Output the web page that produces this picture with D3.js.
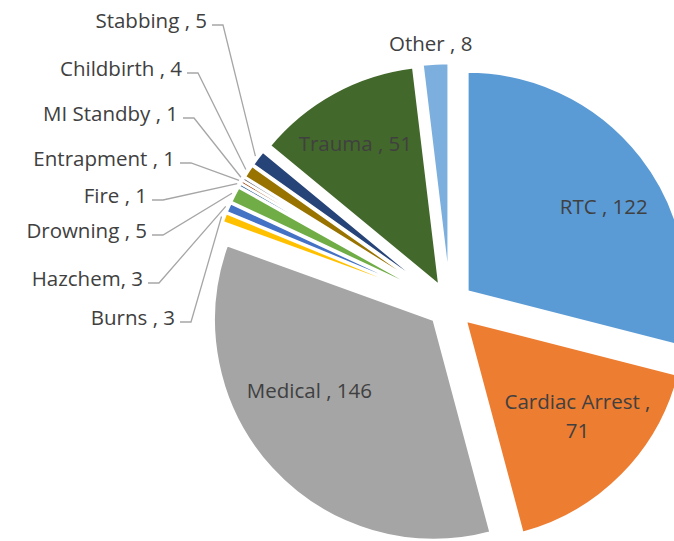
<!doctype html>
<html lang='en'>
<head>
  <meta charset='utf-8'>
  <title>Incident types</title>
  <style>
    html, body { margin: 0; padding: 0; background: #fff; }
    text { font-family: 'Open Sans', sans-serif; fill: #404040; }
    polyline.leader { stroke: #a6a6a6; stroke-width: 1.3; fill: none; }
  </style>
</head>
<body>
  <script src='https://d3js.org/d3.v7.min.js'></script>
  <script>
    // slices, clockwise from 12 o'clock
    const categories = ['RTC', 'Cardiac Arrest', 'Medical', 'Burns', 'Hazchem', 'Drowning', 'Fire',
      'Entrapment', 'MI Standby', 'Childbirth', 'Stabbing', 'Trauma', 'Other']
    const counts = [122, 71, 146, 3, 3, 5, 1, 1, 1, 4, 5, 51, 8]
    const labelText = ['RTC , 122', 'Cardiac Arrest ,|71', 'Medical , 146', 'Burns , 3', 'Hazchem, 3',
      'Drowning , 5', 'Fire , 1', 'Entrapment , 1', 'MI Standby , 1', 'Childbirth , 4', 'Stabbing , 5',
      'Trauma , 51', 'Other , 8']
    const colors = ['#5b9bd5', '#ed7d31', '#a5a5a5', '#ffc000', '#4472c4', '#70ad47', '#255e91',
      '#9e480e', '#636363', '#997300', '#264478', '#43682b', '#7cafdd']

    const width = 674
    const height = 541
    const cx = 450
    const cy = 305
    const radius = 220
    const explode = 22
    const fontSize = '20.5px'

    // label layout: inside labels use [angle shift deg, radius fraction]
    const inside = {
      'RTC': [6, 0.73],
      'Cardiac Arrest': [-4, 0.67],
      'Medical': [13, 0.65],
      'Trauma': [-2, 0.75]
    }
    // leader labels: elbow x / y of the horizontal stub
    const leader = {
      'Stabbing': [212, 25],
      'Childbirth': [187, 73],
      'MI Standby': [183, 118],
      'Entrapment': [180, 163],
      'Fire': [152, 200],
      'Drowning': [152, 235],
      'Hazchem': [148, 283],
      'Burns': [180, 322]
    }

    const data = categories.map((c, i) => ({ name: c, value: counts[i], label: labelText[i], color: colors[i] }))

    const pie = d3.pie().sort(null).value(d => d.value)
    const arcs = pie(data)
    const arc = d3.arc().innerRadius(0).outerRadius(radius)

    const svg = d3.select('body').append('svg')
      .attr('width', width)
      .attr('height', height)

    const g = svg.append('g').attr('transform', `translate(${cx},${cy})`)

    const polar = (a, r) => [r * Math.sin(a), -r * Math.cos(a)]

    g.selectAll('path')
      .data(arcs)
      .join('path')
      .attr('transform', d => {
        const [x, y] = polar((d.startAngle + d.endAngle) / 2, explode)
        return `translate(${x},${y})`
      })
      .attr('d', arc)
      .attr('fill', d => d.data.color)
      .attr('stroke', '#fff')
      .attr('stroke-width', 2.5)

    // labels inside slices
    arcs.filter(d => inside[d.data.name]).forEach(d => {
      const [shift, frac] = inside[d.data.name]
      const mid = (d.startAngle + d.endAngle) / 2
      const [ox, oy] = polar(mid, explode)
      const [lx, ly] = polar(mid + shift * Math.PI / 180, radius * frac)
      const lines = d.data.label.split('|')
      const t = g.append('text')
        .attr('x', ox + lx)
        .attr('y', oy + ly)
        .attr('text-anchor', 'middle')
        .style('font-size', fontSize)
      lines.forEach((s, k) => {
        t.append('tspan')
          .attr('x', ox + lx)
          .attr('dy', k === 0 ? `${0.35 - (lines.length - 1) * 0.7}em` : '1.4em')
          .text(s)
      })
    })

    // Other: outside, no leader
    arcs.filter(d => d.data.name === 'Other').forEach(d => {
      const mid = (d.startAngle + d.endAngle) / 2
      const [lx, ly] = polar(mid - 0.8 * Math.PI / 180, radius + explode + 20)
      g.append('text')
        .attr('x', lx)
        .attr('y', ly)
        .attr('dy', '0.35em')
        .attr('text-anchor', 'middle')
        .style('font-size', fontSize)
        .text(d.data.label)
    })

    // leader labels
    arcs.filter(d => leader[d.data.name]).forEach(d => {
      const [ex, ey] = leader[d.data.name]
      const mid = (d.startAngle + d.endAngle) / 2
      const [px, py] = polar(mid, radius + explode + 3)
      svg.append('polyline')
        .attr('class', 'leader')
        .attr('points', [[ex, ey], [ex + 11, ey], [cx + px, cy + py]].map(p => p.join(',')).join(' '))
      svg.append('text')
        .attr('x', ex - 5)
        .attr('y', ey + 3)
        .attr('text-anchor', 'end')
        .style('font-size', fontSize)
        .text(d.data.label)
    })
  </script>
</body>
</html>
